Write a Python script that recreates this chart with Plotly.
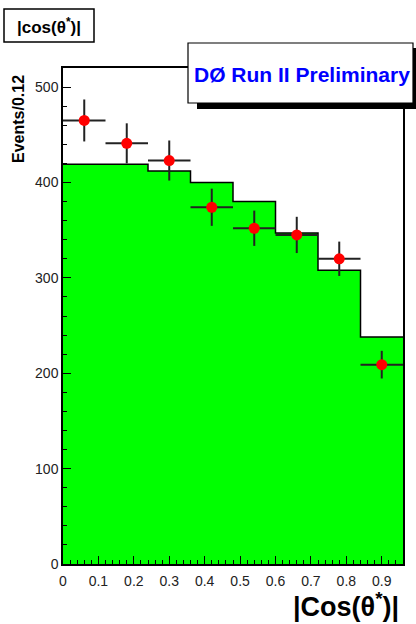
import plotly.graph_objects as go

# ---- data ----
bin_edges = [0.0, 0.12, 0.24, 0.36, 0.48, 0.60, 0.72, 0.84, 0.96]
mc_counts = [419, 419, 412, 400, 380, 347, 308, 238]
bin_centers = [0.06, 0.18, 0.30, 0.42, 0.54, 0.66, 0.78, 0.90]
data_counts = [465, 441, 423, 374, 352, 345, 320, 209]
data_errors = [22, 21, 21, 19.5, 18.5, 19, 18, 14.5]
bin_half_width = [0.06] * 8
y_ticks = [0, 100, 200, 300, 400, 500]
x_ticks = [0, 0.1, 0.2, 0.3, 0.4, 0.5, 0.6, 0.7, 0.8, 0.9]
x_tick_text = ["0", "0.1", "0.2", "0.3", "0.4", "0.5", "0.6", "0.7", "0.8", "0.9"]

W, H = 416, 624
L, R, T, B = 63, 403, 68, 564
FONT = "Liberation Sans, Arial, sans-serif"


def px(x):
    return (x - L) / (R - L)


def py(y):
    return (B - y) / (B - T)


fig = go.Figure()

# MC histogram (step, filled)
fig.add_trace(go.Scatter(
    x=bin_edges,
    y=mc_counts + [mc_counts[-1]],
    mode="lines",
    line=dict(shape="hv", color="black", width=1.5),
    fill="tozeroy",
    fillcolor="#00ff00",
    hoverinfo="skip",
    showlegend=False,
))

# Data points
fig.add_trace(go.Scatter(
    x=bin_centers,
    y=data_counts,
    mode="markers",
    marker=dict(color="#ff0000", size=11, symbol="circle"),
    error_y=dict(type="data", array=data_errors, color="#222222", thickness=2, width=0),
    error_x=dict(type="data", array=bin_half_width, color="#222222", thickness=2, width=0),
    showlegend=False,
))

shapes = [
    # title box
    dict(type="rect", xref="paper", yref="paper",
         x0=px(4), x1=px(94), y0=py(42), y1=py(9),
         line=dict(color="black", width=1.5), fillcolor="white", layer="above"),
    # legend shadow
    dict(type="rect", xref="paper", yref="paper",
         x0=px(197), x1=px(420), y0=py(109), y1=py(100),
         line=dict(width=0), fillcolor="black", layer="above"),
    dict(type="rect", xref="paper", yref="paper",
         x0=px(409), x1=px(420), y0=py(109), y1=py(48),
         line=dict(width=0), fillcolor="black", layer="above"),
    # legend box
    dict(type="rect", xref="paper", yref="paper",
         x0=px(188), x1=px(413), y0=py(103), y1=py(43),
         line=dict(color="black", width=1.2), fillcolor="white", layer="above"),
]

annotations = [
    dict(text="<b>|cos(θ<sup>*</sup>)|</b>", xref="paper", yref="paper",
         x=px(49), y=py(26), xanchor="center", yanchor="middle", showarrow=False,
         font=dict(family=FONT, size=17, color="black")),
    dict(text="<b>DØ Run II Preliminary</b>", xref="paper", yref="paper",
         x=px(302), y=py(74), xanchor="center", yanchor="middle", showarrow=False,
         font=dict(family=FONT, size=21, color="#0000ff")),
    dict(text="<b>Events/0.12</b>", xref="paper", yref="paper",
         x=px(19), y=py(119), xanchor="center", yanchor="middle", showarrow=False,
         textangle=-90, font=dict(family=FONT, size=16, color="black")),
    dict(text="<b>|Cos(θ<sup>*</sup>)|</b>", xref="paper", yref="paper",
         x=px(401), y=py(605), xanchor="right", yanchor="middle", showarrow=False,
         font=dict(family=FONT, size=27, color="black")),
]

fig.update_layout(
    width=W, height=H,
    margin=dict(l=L, r=W - R, t=T, b=H - B, pad=0),
    paper_bgcolor="white",
    plot_bgcolor="white",
    font=dict(family=FONT, size=14, color="#222222"),
    shapes=shapes,
    annotations=annotations,
    showlegend=False,
    xaxis=dict(
        range=[0, 0.96], showgrid=False, zeroline=False,
        showline=True, linecolor="black", linewidth=1.5, mirror=True,
        ticks="inside", ticklen=8, tickwidth=1.2, tickcolor="black",
        tickvals=x_ticks, ticktext=x_tick_text, ticklabelstandoff=3,
        minor=dict(dtick=0.02, tick0=0, ticks="inside", ticklen=4, tickwidth=1, tickcolor="black", showgrid=False),
        tickfont=dict(size=14, color="#222222"),
    ),
    yaxis=dict(
        range=[0, 520], showgrid=False, zeroline=False,
        showline=True, linecolor="black", linewidth=1.5, mirror=True,
        ticks="inside", ticklen=8, tickwidth=1.2, tickcolor="black",
        tickvals=y_ticks,
        minor=dict(dtick=20, tick0=0, ticks="inside", ticklen=4, tickwidth=1, tickcolor="black", showgrid=False),
        tickfont=dict(size=14, color="#222222"),
    ),
)

fig.write_html("out.html")
